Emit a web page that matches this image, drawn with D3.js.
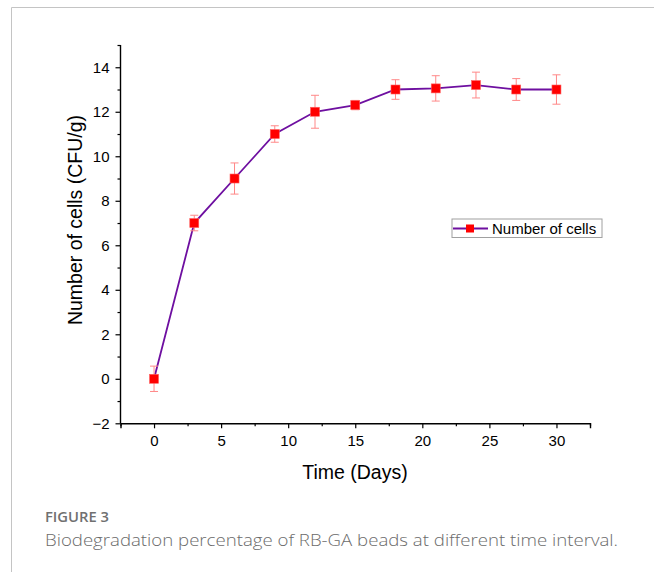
<!DOCTYPE html>
<html>
<head>
<meta charset="utf-8">
<script src="https://cdn.jsdelivr.net/npm/d3@7"></script>
<style>
  body { margin: 0; background: #fff; }
  svg { display: block; }
</style>
</head>
<body>
<svg id="chart" width="654" height="572"></svg>
<script>
// Chart data
const days = [0, 3, 6, 9, 12, 15, 18, 21, 24, 27, 30];
const cells = [0, 7, 9, 11, 12, 12.3, 13, 13.05, 13.2, 13, 13];
const cellsErr = [0.57, 0.35, 0.7, 0.37, 0.74, 0.21, 0.44, 0.57, 0.58, 0.49, 0.66];
const xTicks = [0, 5, 10, 15, 20, 25, 30];
const yTicks = [-2, 0, 2, 4, 6, 8, 10, 12, 14];

const svg = d3.select("#chart");

// Figure frame (left and top rules)
svg.append("path")
  .attr("d", "M11.5,572 V7.5 H654")
  .attr("fill", "none")
  .attr("stroke", "#c4c4c4")
  .attr("stroke-width", 1);

// Scales
const x = d3.scaleLinear().domain([-2.5, 32.5]).range([120.5, 590]);
const y = d3.scaleLinear().domain([-2, 15]).range([423.3, 45]);

const font = "Arial, 'Liberation Sans', sans-serif";

// X axis
const xAxis = svg.append("g")
  .attr("transform", `translate(0,${y(-2)})`)
  .call(d3.axisBottom(x).tickValues(xTicks).tickSize(5).tickPadding(7).tickFormat(d3.format("d")));
xAxis.select(".domain").attr("stroke-width", 1.4);
xAxis.selectAll(".tick line").attr("stroke-width", 1.2);
xAxis.selectAll("text").attr("font-family", font).attr("font-size", 15).attr("fill", "#000");
svg.append("g")
  .attr("transform", `translate(0,${y(-2)})`)
  .call(d3.axisBottom(x).tickValues(d3.range(-2.5, 33, 5)).tickSize(3).tickFormat(""))
  .call(g => g.select(".domain").remove())
  .selectAll(".tick line").attr("stroke-width", 1.2);

// Y axis
const yAxis = svg.append("g")
  .attr("transform", `translate(${x(-2.5)},0)`)
  .call(d3.axisLeft(y).tickValues(yTicks).tickSize(5).tickPadding(6)
    .tickFormat(d => d < 0 ? "\u2212" + Math.abs(d) : d));
yAxis.select(".domain").attr("stroke-width", 1.4).attr("d", `M0,${y(-2)}V${y(15)}`);
yAxis.selectAll(".tick line").attr("stroke-width", 1.2);
yAxis.selectAll("text").attr("font-family", font).attr("font-size", 15).attr("fill", "#000");
svg.append("g")
  .attr("transform", `translate(${x(-2.5)},0)`)
  .call(d3.axisLeft(y).tickValues(d3.range(-1, 16, 2)).tickSize(3).tickFormat(""))
  .call(g => g.select(".domain").remove())
  .selectAll(".tick line").attr("stroke-width", 1.2);

// Axis titles
svg.append("text")
  .attr("x", 355).attr("y", 479)
  .attr("text-anchor", "middle")
  .attr("font-family", font).attr("font-size", 19.5)
  .text("Time (Days)");
svg.append("text")
  .attr("transform", "translate(82,220) rotate(-90)")
  .attr("text-anchor", "middle")
  .attr("font-family", font).attr("font-size", 19.5)
  .text("Number of cells (CFU/g)");

const pts = days.map((d, i) => ({ x: d, y: cells[i], e: cellsErr[i] }));

// Line
svg.append("path")
  .datum(pts)
  .attr("fill", "none")
  .attr("stroke", "#6e0fa0")
  .attr("stroke-width", 1.8)
  .attr("d", d3.line().x(d => x(d.x)).y(d => y(d.y)));

// Error bars
const errColor = "#f88";
const eb = svg.append("g").attr("stroke", errColor).attr("stroke-width", 1);
pts.forEach(d => {
  eb.append("line").attr("x1", x(d.x)).attr("x2", x(d.x)).attr("y1", y(d.y - d.e)).attr("y2", y(d.y + d.e));
  eb.append("line").attr("x1", x(d.x) - 4).attr("x2", x(d.x) + 4).attr("y1", y(d.y - d.e)).attr("y2", y(d.y - d.e));
  eb.append("line").attr("x1", x(d.x) - 4).attr("x2", x(d.x) + 4).attr("y1", y(d.y + d.e)).attr("y2", y(d.y + d.e));
});

// Markers
svg.append("g").selectAll("rect")
  .data(pts)
  .join("rect")
  .attr("x", d => x(d.x) - 4.5).attr("y", d => y(d.y) - 4.5)
  .attr("width", 9).attr("height", 9)
  .attr("fill", "#ff0000")
  .attr("stroke", "#ff6060").attr("stroke-width", 0.6);

// Legend
const lg = svg.append("g").attr("transform", "translate(452,219)");
lg.append("rect").attr("width", 150).attr("height", 18.5)
  .attr("fill", "#fff").attr("stroke", "#a0a0a0").attr("stroke-width", 1);
lg.append("line").attr("x1", 1).attr("x2", 36).attr("y1", 9.5).attr("y2", 9.5)
  .attr("stroke", "#6e0fa0").attr("stroke-width", 1.8);
lg.append("rect").attr("x", 14).attr("y", 5.5).attr("width", 8).attr("height", 8).attr("fill", "#ff0000");
lg.append("text").attr("x", 40).attr("y", 14.5)
  .attr("font-family", font).attr("font-size", 15)
  .text("Number of cells");

// Caption
svg.append("text")
  .attr("x", 45).attr("y", 522)
  .attr("font-family", "'Open Sans', sans-serif").attr("font-size", 13.5)
  .attr("font-weight", 600)
  .attr("fill", "#707070")
  .attr("textLength", 64).attr("lengthAdjust", "spacingAndGlyphs")
  .text("FIGURE 3");
svg.append("text")
  .attr("x", 45).attr("y", 546)
  .attr("font-family", "'Open Sans', sans-serif").attr("font-size", 16.5)
  .attr("font-weight", 300)
  .attr("fill", "#6b6b6b")
  .attr("textLength", 573).attr("lengthAdjust", "spacingAndGlyphs")
  .text("Biodegradation percentage of RB-GA beads at different time interval.");
</script>
</body>
</html>
